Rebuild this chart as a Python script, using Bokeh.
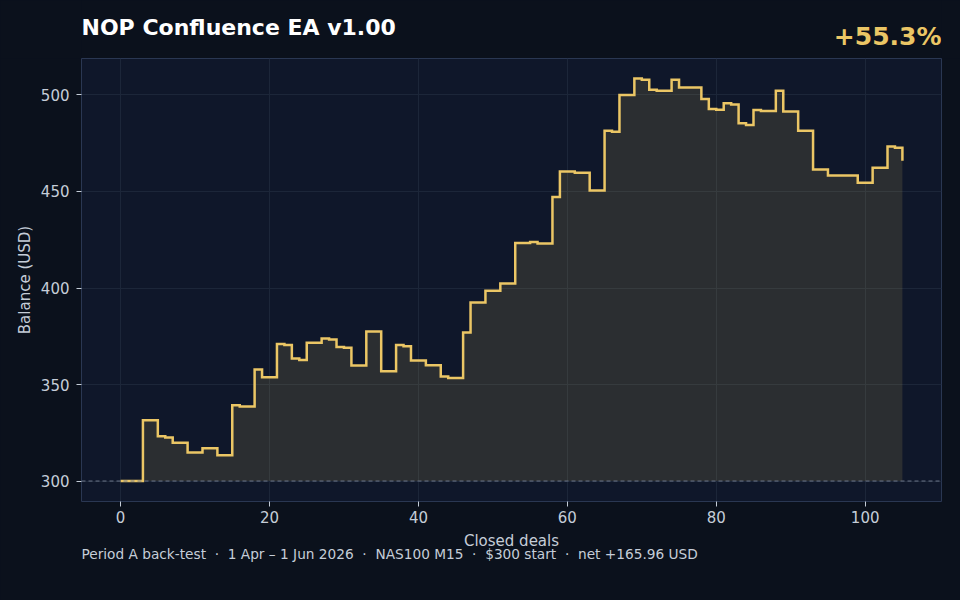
from bokeh.plotting import figure
from bokeh.models import ColumnDataSource, Range1d, FixedTicker, Span, Title
from bokeh.layouts import column
from bokeh.core.properties import value
from bokeh.embed import file_html
from bokeh.resources import INLINE

# balance after each closed deal (deal 0 = starting balance)
deals = list(range(106))
balance = [
    300.0, 300.0, 300.0, 331.5, 331.5, 323.2, 322.5, 319.9, 319.9, 314.8,
    314.8, 317.0, 317.0, 313.4, 313.4, 339.3, 338.6, 338.6, 357.8, 353.8,
    353.8, 371.0, 370.5, 363.5, 362.7, 371.6, 371.6, 373.8, 373.3, 369.5,
    369.0, 359.8, 359.8, 377.5, 377.5, 356.9, 356.9, 370.5, 369.8, 362.4,
    362.4, 360.0, 360.0, 354.1, 353.4, 353.4, 376.9, 392.5, 392.5, 398.6,
    398.6, 402.4, 402.4, 423.3, 423.3, 423.8, 423.0, 423.0, 447.1, 460.3,
    460.3, 459.7, 459.7, 450.5, 450.5, 481.5, 481.0, 500.0, 500.0, 508.6,
    507.9, 502.7, 502.2, 502.2, 507.9, 503.9, 503.9, 503.9, 497.9, 492.8,
    492.4, 495.7, 495.1, 485.3, 484.5, 492.2, 491.7, 491.7, 502.2, 491.4,
    491.4, 481.5, 481.5, 461.4, 461.4, 458.3, 458.3, 458.3, 458.3, 454.5,
    454.5, 462.3, 462.3, 473.3, 472.6, 465.96,
]
start_balance = 300
x_ticks = [0, 20, 40, 60, 80, 100]
y_ticks = [300, 350, 400, 450, 500]

title_text = "NOP Confluence EA v1.00"
gain_text = "+55.3%"
footer_text = ("Period A back-test \u00a0\u00b7\u00a0 1 Apr \u2013 1 Jun 2026 \u00a0\u00b7\u00a0 "
               "NAS100 M15 \u00a0\u00b7\u00a0 $300 start \u00a0\u00b7\u00a0 net +165.96 USD")

PAGE_BG = "#0b111c"
PLOT_BG = "#0f172a"
GRID = "#1c2639"
FRAME = "#2a3752"
TEXT = "#c5cdd8"
GOLD = "#ebc665"
FONT = "DejaVu Sans"

# header strip: its frame lines up with the chart frame (x 81..941), y grows downward
head = figure(width=960, height=58, x_range=Range1d(81, 941), y_range=Range1d(58, 0),
              x_axis_type=None, y_axis_type=None, output_backend="svg",
              toolbar_location=None, min_border=0,
              background_fill_color=PAGE_BG, border_fill_color=PAGE_BG,
              outline_line_color=None)
head.grid.visible = False
head.text(x=[81], y=[27], text=[title_text], text_font=value(FONT),
          text_font_size="22px", text_font_style="bold", text_color="#ffffff",
          text_align="left", text_baseline="alphabetic")
head.text(x=[941], y=[36.2], text=[gain_text], text_font=value(FONT),
          text_font_size="25px", text_font_style="bold", text_color=GOLD,
          text_align="right", text_baseline="alphabetic")

src = ColumnDataSource(dict(x=deals, y=balance))

p = figure(width=960, height=542,
           x_range=Range1d(-5.25, 110.25), y_range=Range1d(289.4, 518.9),
           output_backend="svg", toolbar_location=None,
           min_border_left=81, min_border_right=19,
           min_border_top=0, min_border_bottom=99,
           background_fill_color=PLOT_BG, border_fill_color=PAGE_BG,
           outline_line_color=FRAME, outline_line_width=1)

p.varea_step(x="x", y1=start_balance, y2="y", step_mode="after", source=src,
             fill_color=GOLD, fill_alpha=0.13)
p.add_layout(Span(location=start_balance, dimension="width", line_color="#6b7689",
                  line_width=1, line_dash="4 3"))
p.step(x="x", y="y", mode="after", source=src, line_color=GOLD,
       line_width=2.5, line_join="miter")

p.xaxis.ticker = FixedTicker(ticks=x_ticks)
p.yaxis.ticker = FixedTicker(ticks=y_ticks)
p.xaxis.axis_label = "Closed deals"
p.yaxis.axis_label = "Balance (USD)"

p.axis.axis_line_color = None
p.axis.major_tick_in = 0
p.axis.major_tick_out = 5
p.axis.minor_tick_in = 0
p.axis.minor_tick_out = 0
p.axis.major_tick_line_color = TEXT
p.axis.major_label_text_font = FONT
p.axis.major_label_text_font_size = "15px"
p.axis.major_label_text_color = TEXT
p.axis.axis_label_text_font = FONT
p.axis.axis_label_text_font_size = "15px"
p.axis.axis_label_text_font_style = "normal"
p.axis.axis_label_text_color = TEXT
p.xaxis.major_label_standoff = 4
p.xaxis.axis_label_standoff = 6
p.yaxis.major_label_standoff = 7
p.yaxis.axis_label_standoff = 4

p.grid.grid_line_color = GRID
p.grid.grid_line_width = 1

p.add_layout(Title(text=footer_text, align="left", standoff=-18,
                   text_font=FONT, text_font_size="13.7px", text_font_style="normal",
                   text_color=TEXT), "below")

page = column(head, p, spacing=0)

html = file_html(page, INLINE, title=title_text)
html = html.replace("</head>", "<style>body{background:%s;}</style></head>" % PAGE_BG, 1)
open("out.html", "w").write(html)
